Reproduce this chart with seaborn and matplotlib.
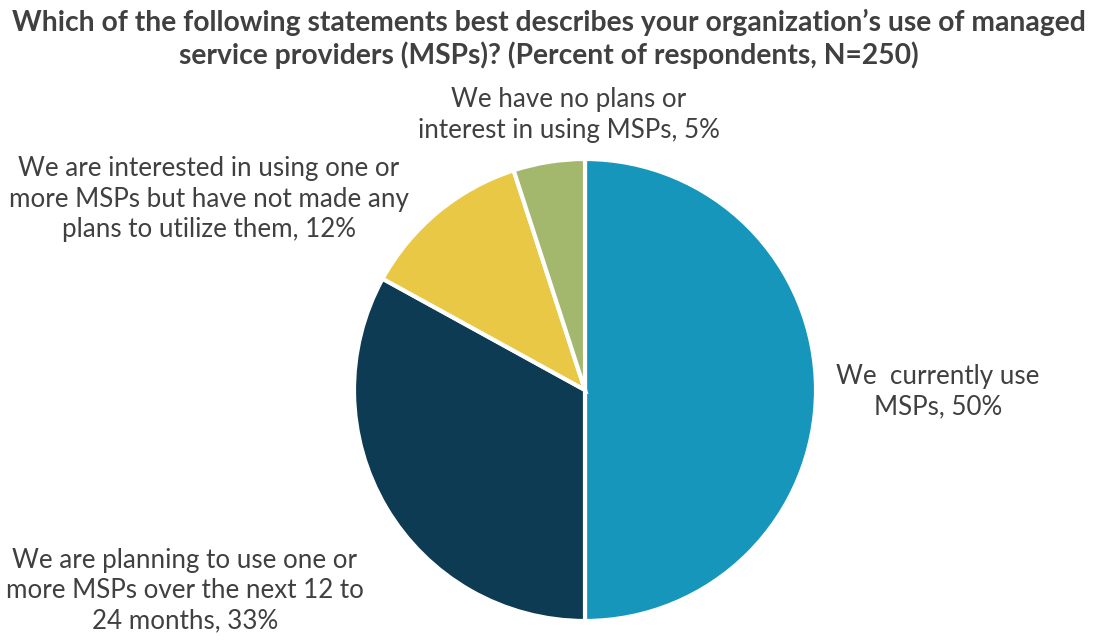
import matplotlib
matplotlib.use("Agg")
import matplotlib.pyplot as plt
import seaborn as sns

# Survey responses (percent of respondents, N=250)
categories = [
    "We  currently use\nMSPs",
    "We are planning to use one or\nmore MSPs over the next 12 to\n24 months",
    "We are interested in using one or\nmore MSPs but have not made any\nplans to utilize them",
    "We have no plans or\ninterest in using MSPs",
]
values = [50, 33, 12, 5]
colors = ["#1596BA", "#0D3B53", "#E8C845", "#A3B86C"]
title = ("Which of the following statements best describes your organization\u2019s use of managed\n"
         "service providers (MSPs)? (Percent of respondents, N=250)")

sns.set_theme(style="white")
plt.rcParams["font.family"] = ["Lato", "DejaVu Sans"]
text_color = "#404040"

W, H = 1099, 641
fig = plt.figure(figsize=(W / 100, H / 100), dpi=100)

# Pie axes: centre (585, 390) px, radius 231 px
cx, cy, r = 585, 390, 231
ax = fig.add_axes([(cx - r) / W, (H - cy - r) / H, 2 * r / W, 2 * r / H])
palette = sns.color_palette(colors)
ax.pie(values, colors=palette, startangle=90, counterclock=False,
       wedgeprops=dict(edgecolor="white", linewidth=3))
ax.set_xlim(-1, 1)
ax.set_ylim(-1, 1)
ax.set_aspect("equal")
ax.axis("off")

# Category labels with their values
label_pos = [(938, 392), (185, 591), (209, 199), (569, 115)]
for cat, val, (x, y) in zip(categories, values, label_pos):
    fig.text(x / W, 1 - y / H, f"{cat}, {val}%", ha="center", va="center",
             fontsize=18.7, color=text_color, linespacing=1.26)

fig.text(549 / W, 1 - 39 / H, title, ha="center", va="center", fontsize=20.3,
         fontweight="bold", color=text_color, linespacing=1.25)

fig.savefig("out.png", dpi=100)
